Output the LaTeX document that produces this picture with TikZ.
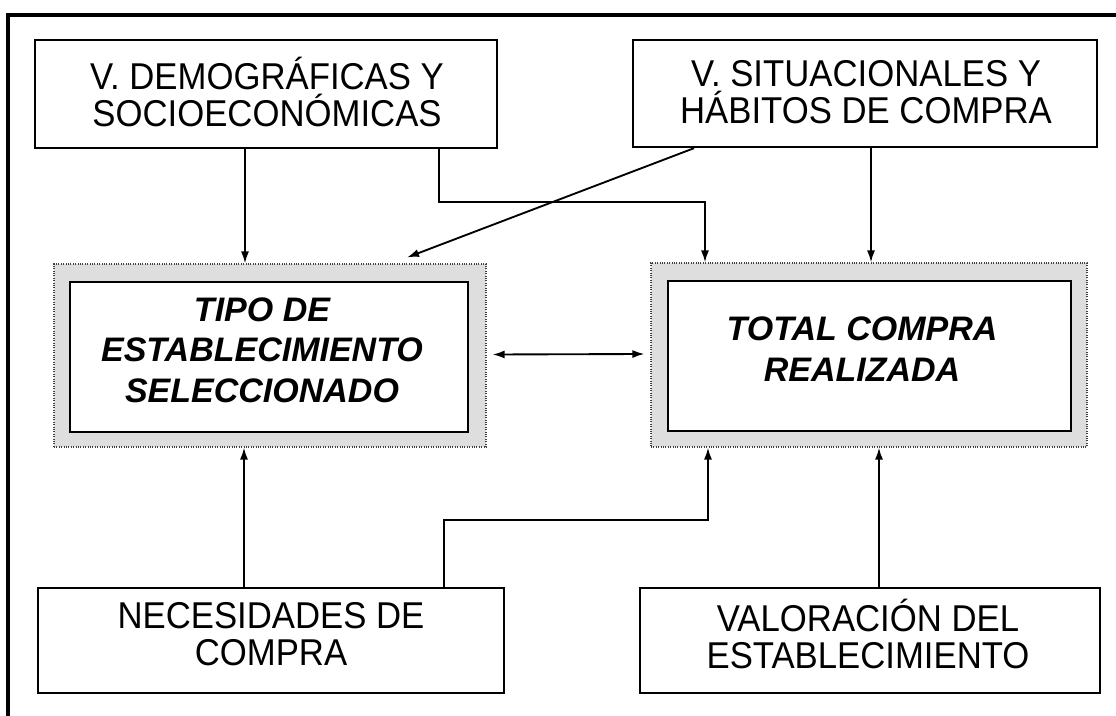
\documentclass[tikz,border=0pt]{standalone}
\usepackage{fontspec}
\setmainfont[FakeStretch=0.93]{Liberation Sans}
\newfontfamily\corefont{Liberation Sans}
\usetikzlibrary{arrows.meta,calc}
\newlength\px
\setlength\px{0.75pt}
\begin{document}
\begin{tikzpicture}[x=0.75pt,y=-0.75pt,
  plainbox/.style={draw=black,line width=1.8pt,fill=white,inner sep=0pt},
  plaintext/.style={inner sep=0pt,align=center,font=\fontsize{28}{27.5}\selectfont},
  bandbox/.style={draw=black!75,densely dotted,line width=0.8pt,fill=black!13,inner sep=0pt},
  corebox/.style={draw=black,line width=1.1pt,fill=white,inner sep=0pt},
  coretext/.style={inner sep=0pt,align=center,
    font=\corefont\fontsize{25.5}{30.5}\selectfont\bfseries\itshape},
  arr/.style={line width=1.4pt,-{Latex[length=9pt,width=6pt]}},
  darr/.style={line width=1.4pt,{Latex[length=9pt,width=6pt]}-{Latex[length=9pt,width=6pt]}}]
\useasboundingbox (0,0) rectangle (1116,716);
\clip (0,0) rectangle (1116,716);
\fill[white] (0,0) rectangle (1116,716);
% outer frame (cut by the page at right and bottom)
\draw[line width=2.3pt] (8,720) -- (8,15) -- (1120,15);
% top boxes
\node[plainbox,minimum width=462\px,minimum height=108\px] (demo) at (266,94) {};
\node[plaintext] (demot) at (267,92) {V. DEMOGRÁFICAS Y\\SOCIOECONÓMICAS};
\node[plainbox,minimum width=464\px,minimum height=107\px] (situ) at (865,93.5) {};
\node[plaintext] (situt) at (866,92) {V. SITUACIONALES Y\\HÁBITOS DE COMPRA};
% central boxes
\node[bandbox,minimum width=432\px,minimum height=183\px] (tipo) at (270,355.5) {};
\node[corebox,minimum width=398\px,minimum height=150\px] (tipoin) at (269,357) {};
\node[coretext] (tipot) at (262,350) {TIPO DE\\ESTABLECIMIENTO\\SELECCIONADO};
\node[bandbox,minimum width=436\px,minimum height=184\px] (total) at (869,355) {};
\node[corebox,minimum width=403\px,minimum height=150\px] (totalin) at (869.5,356) {};
\node[coretext] (totalt) at (862,349) {TOTAL COMPRA\\REALIZADA};
% bottom boxes
\node[plainbox,minimum width=466\px,minimum height=105\px] (nec) at (271,640.5) {};
\node[plaintext] (nect) at (271,634) {NECESIDADES DE\\COMPRA};
\node[plainbox,minimum width=460\px,minimum height=105\px] (val) at (870,640.5) {};
\node[plaintext] (valt) at (868,634) {VALORACIÓN DEL\\ESTABLECIMIENTO};
% connectors
\coordinate (k1) at (705,202);
\coordinate (k2) at (708,520);
\draw[arr] ($(demo.south)+(-21,0)$) -- ($(tipo.north)+(-25,0)$);
\draw[arr] ($(demo.south)+(173,0)$) |- (k1) -- (k1 |- total.north);
\draw[arr] ($(situ.south)+(-171,0)$) -- ($(tipo.north)+(137,-6)$);
\draw[arr] ($(situ.south)+(6,0)$) -- ($(total.north)+(2,0)$);
\draw[darr] ($(tipo.east)+(6,-1)$) -- ($(total.west)+(-6,-1)$);
\draw[arr] ($(nec.north)+(-27,0)$) -- ($(tipo.south)+(-26,0)$);
\draw[arr] ($(nec.north)+(173,0)$) |- (k2) -- (k2 |- total.south);
\draw[arr] ($(val.north)+(9,0)$) -- ($(total.south)+(10,0)$);
\end{tikzpicture}
\end{document}
